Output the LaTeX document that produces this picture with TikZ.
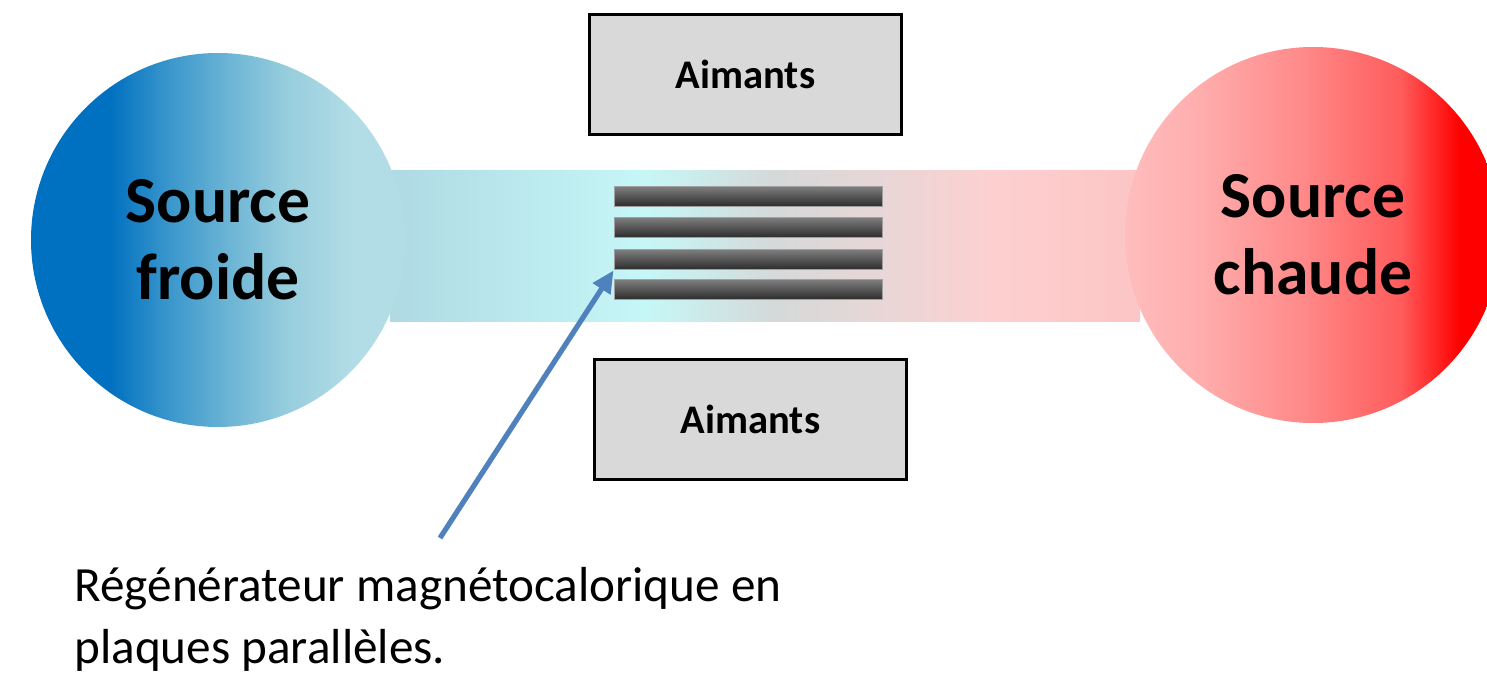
\documentclass[tikz,border=0pt]{standalone}
\usepackage{fontspec}
\setmainfont{Carlito}
\usetikzlibrary{arrows.meta}
\definecolor{cbA}{HTML}{0070C0}
\definecolor{cbB}{HTML}{3A97CC}
\definecolor{cbC}{HTML}{6DB5D5}
\definecolor{cbD}{HTML}{96CDDD}
\definecolor{cbE}{HTML}{B2DCE6}
\definecolor{crA}{HTML}{FFBDBD}
\definecolor{crB}{HTML}{FFADAD}
\definecolor{crC}{HTML}{FF8A8A}
\definecolor{crD}{HTML}{FF5C5C}
\definecolor{crE}{HTML}{FF0000}
\definecolor{chA}{HTML}{B0DBE5}
\definecolor{chB}{HTML}{C6F7F7}
\definecolor{chC}{HTML}{D5D9D9}
\definecolor{chD}{HTML}{EAD6D6}
\definecolor{chE}{HTML}{FDD0D0}
\definecolor{chF}{HTML}{FDC6C6}
\definecolor{plateTop}{HTML}{7C7C7C}
\definecolor{plateBot}{HTML}{2A2A2A}
\definecolor{plateEdge}{HTML}{A0A0A0}
\definecolor{boxFill}{HTML}{D9D9D9}
\definecolor{arrowBlue}{HTML}{4F81BD}
\pgfdeclarehorizontalshading{coldshade}{100bp}{color(0bp)=(cbA); color(35.5bp)=(cbA); color(43.5bp)=(cbB); color(51.6bp)=(cbC); color(59bp)=(cbD); color(67.7bp)=(cbE); color(100bp)=(cbE)}
\pgfdeclarehorizontalshading{hotshade}{100bp}{color(0bp)=(crA); color(25bp)=(crA); color(35bp)=(crB); color(48.3bp)=(crC); color(61.6bp)=(crD); color(69.5bp)=(crE); color(100bp)=(crE)}
\pgfdeclarehorizontalshading{channelshade}{100bp}{color(0bp)=(chA); color(26bp)=(chA); color(42bp)=(chB); color(50.6bp)=(chC); color(58.3bp)=(chD); color(65.1bp)=(chE); color(73.3bp)=(chF); color(100bp)=(chF)}
\tikzset{
  source/.style={circle, inner sep=0pt, font=\bfseries\fontsize{32.8}{38.5}\selectfont, align=center},
  plate/.style={rectangle, inner sep=0pt, minimum width=134pt, minimum height=10pt, top color=plateTop, bottom color=plateBot, draw=plateEdge, line width=0.5pt},
  magnet/.style={rectangle, inner sep=0pt, minimum width=156pt, minimum height=60pt, fill=boxFill, draw=black, line width=1.5pt, font=\bfseries\fontsize{20.3}{24}\selectfont},
  pointer/.style={draw=arrowBlue, line width=2.6pt, -{Triangle[length=11pt,width=10pt]}},
  caption/.style={inner sep=0pt, anchor=base west, font=\fontsize{24.6}{31}\selectfont}
}
\begin{document}
\begin{tikzpicture}[x=0.5pt,y=-0.5pt]
\clip (0,0) rectangle (1487,673);
\fill[white] (0,0) rectangle (1487,673);
% channel
\path[shading=channelshade] (390,171) rectangle (1140,322);
% sources
\node[source, minimum size=187pt, shading=coldshade] (cold) at (218,240) {Source\\froide};
\node[source, minimum size=188pt, shading=hotshade] (hot) at (1313,235) {Source\\chaude};
% plates
\node[plate] (p1) at (748,197) {};
\node[plate] (p2) at (748,228) {};
\node[plate] (p3) at (748,260) {};
\node[plate] (p4) at (748,290) {};
% magnets
\node[magnet] (m1) at (745.5,74.5) {Aimants};
\node[magnet] (m2) at (750.5,419.5) {Aimants};
% arrow
\coordinate (tail) at (440,538);
\draw[pointer] (tail) -- (p3.south west);
% caption
\node[caption] (regen1) at (74,601) {Régénérateur magnétocalorique en};
\node[caption] (regen2) at (74,663) {plaques parallèles.};
\end{tikzpicture}
\end{document}
